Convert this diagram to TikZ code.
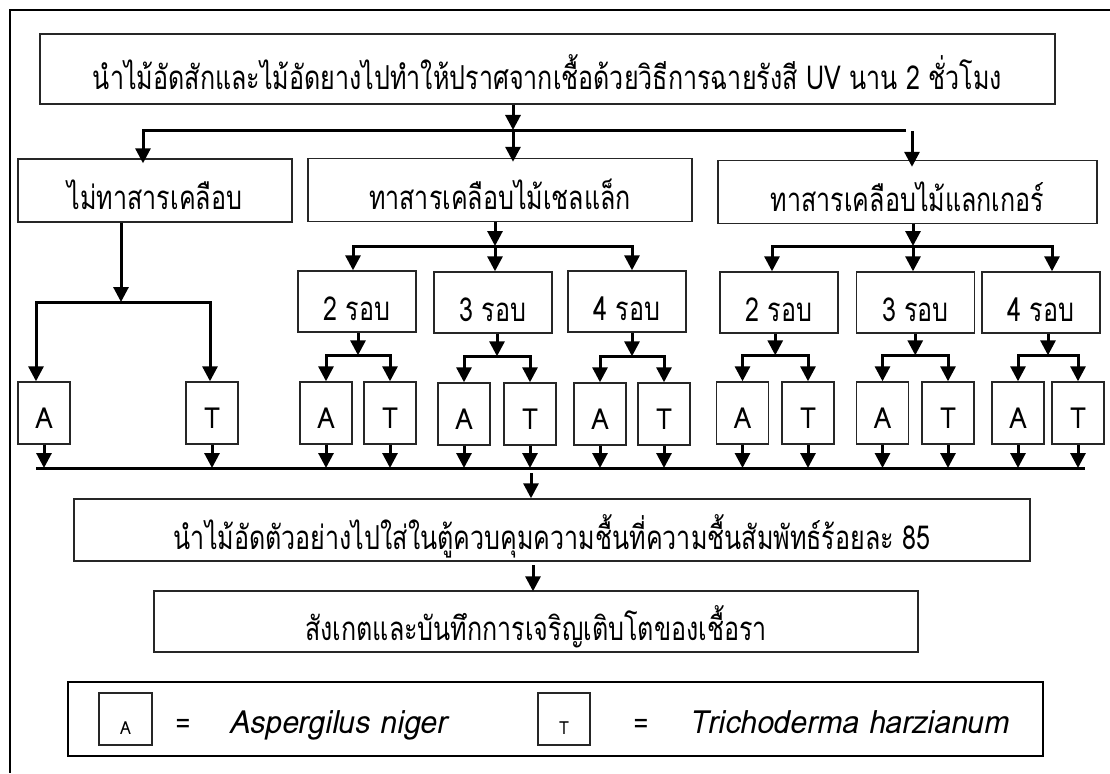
\documentclass[tikz,border=0pt]{standalone}
\usepackage{fontspec}
\setmainfont[Script=Thai]{Loma}
\newfontfamily\thaiN[Script=Thai,FakeStretch=0.76]{Loma}
\newfontfamily\latN[Script=Thai,FakeStretch=0.9]{Loma}
\newfontfamily\latI[Script=Thai,FakeStretch=0.94]{Loma}
\usetikzlibrary{arrows.meta,calc}
\begin{document}
\begin{tikzpicture}[x=1pt,y=-1pt,
  box/.style={draw=black!85,line width=1.4pt,inner sep=0pt,font=\thaiN\fontsize{33}{38}\selectfont,text depth=0pt},
  ln/.style={line width=3pt,black},
  arr/.style={line width=3pt,black,-{Triangle[length=15pt,width=15pt]}},
  frame/.style={line width=2.2pt,black},
  ab/.style={box,minimum width=52pt,minimum height=62pt,text height=30pt,font=\latN\fontsize{29}{32}\selectfont},
  rb/.style={box,minimum width=118pt,minimum height=61pt,text height=37pt},
  gb/.style={box,minimum height=63pt,text height=38pt},
  kb/.style={box,minimum height=52pt,text height=31pt,font=\latN\fontsize{18}{20}\selectfont},
  lg/.style={inner sep=0pt,font=\latI\fontsize{32}{36}\selectfont\itshape,anchor=base west},
  eq/.style={inner sep=0pt,font=\latN\fontsize{28}{32}\selectfont,anchor=base},
]
\useasboundingbox (0,0) rectangle (1110,773);
% frame
\coordinate (fTL) at (10,10);
\coordinate (fTR) at (1110,10);
\coordinate (fBL) at (10,773);
\draw[frame] (fTR) -- (fTL) -- (fBL);
% top box
\node[box,minimum width=1015pt,minimum height=70pt,text height=42pt] (top) at (547.5,69)
  {นำไม้อัดสักและไม้อัดยางไปทำให้ปราศจากเชื้อด้วยวิธีการฉายรังสี UV นาน 2 ชั่วโมง};
% second row
\node[gb,minimum width=274pt] (none) at (155,190.5) {ไม่ทาสารเคลือบ};
\node[gb,minimum width=384pt] (shel) at (500,190) {ทาสารเคลือบไม้เชลแล็ก};
\node[gb,minimum width=379pt] (lacq) at (907.5,192) {ทาสารเคลือบไม้แลกเกอร์};
% rounds
\node[rb] (S2) at (357,301.5) {2 รอบ};
\node[rb] (S3) at (493,302.5) {3 รอบ};
\node[rb] (S4) at (627,301.5) {4 รอบ};
\node[rb] (L2) at (779,302.5) {2 รอบ};
\node[rb] (L3) at (915.5,302.5) {3 รอบ};
\node[rb] (L4) at (1041,302.5) {4 รอบ};
% A / T boxes
\node[ab] (NA) at (44,413) {A};
\node[ab] (NT) at (212,413) {T};
\node[ab] (SA2) at (326,413) {A};
\node[ab] (ST2) at (390,413) {T};
\node[ab] (SA3) at (464,414) {A};
\node[ab] (ST3) at (530,414) {T};
\node[ab] (SA4) at (600,414) {A};
\node[ab] (ST4) at (664,414) {T};
\node[ab] (LA2) at (742.5,413) {A};
\node[ab] (LT2) at (808,413) {T};
\node[ab] (LA3) at (882.5,413) {A};
\node[ab] (LT3) at (948,413) {T};
\node[ab] (LA4) at (1018,413) {A};
\node[ab] (LT4) at (1078,413) {T};
% lower boxes
\node[box,minimum width=956pt,minimum height=62pt,text height=38pt] (M1) at (552,530)
  {นำไม้อัดตัวอย่างไปใส่ในตู้ควบคุมความชื้นที่ความชื้นสัมพัทธ์ร้อยละ 85};
\node[box,minimum width=764pt,minimum height=61pt,text height=38pt] (M2) at (536,621.5)
  {สังเกตและบันทึกการเจริญเติบโตของเชื้อรา};
% legend
\node[draw=black,line width=2.4pt,minimum width=975pt,minimum height=74pt,inner sep=0pt] (leg) at (555.5,719) {};
\node[kb,minimum width=53pt] (kA) at (125.5,719) {A};
\node[kb,minimum width=52pt] (kT) at (564,719) {T};
\node[eq] (eqA) at (183,733) {=};
\node[eq] (eqT) at (641,733) {=};
\node[lg] (nA) at (229,733) {Aspergilus niger};
\node[lg] (nT) at (689,733) {Trichoderma harzianum};
% connectors: top level
\coordinate (j0) at (513,130);
\coordinate (j0L) at (143,130);
\coordinate (j0R) at (906,130);
\coordinate (j0R2) at (912,131);
\draw[arr] (top.south -| j0) -- (j0);
\draw[arr] (j0R) -- (j0L) -- ([yshift=-5pt]j0L |- none.north);
\draw[arr] (j0) -- ([yshift=-4pt]j0 |- shel.north);
\draw[arr] (j0R2) -- ([yshift=-7pt]j0R2 |- lacq.north);
% no coating branch
\coordinate (j1) at (121,302);
\coordinate (j1L) at (36,302);
\coordinate (j1R) at (210,302);
\draw[arr] (none.south -| j1) -- (j1);
\draw[arr] (j1R) -- (j1L) -- (j1L |- NA.north);
\draw[arr] (j1L) -- (j1R) -- (j1R |- NT.north);
% shellac branch
\coordinate (j2) at (495,246);
\coordinate (j2L) at (353,246);
\coordinate (j2R) at (632,246);
\draw[arr] (shel.south -| j2) -- (j2);
\draw[arr] (j2R) -- (j2L) -- (j2L |- S2.north);
\draw[arr] (j2L) -- (j2R) -- (j2R |- S4.north);
\draw[arr] (j2) -- (j2 |- S3.north);
% lacquer branch
\coordinate (j3) at (913,246);
\coordinate (j3L) at (772,246);
\coordinate (j3R) at (1052,246);
\draw[arr] (lacq.south -| j3) -- (j3);
\draw[arr] (j3R) -- (j3L) -- (j3L |- L2.north);
\draw[arr] (j3L) -- (j3R) -- (j3R |- L4.north);
\draw[arr] (j3) -- (j3 |- L3.north);
% rounds to A/T
\foreach \rr/\pp/\qq in {S2/SA2/ST2,S3/SA3/ST3,S4/SA4/ST4,L2/LA2/LT2,L3/LA3/LT3,L4/LA4/LT4}{
  \coordinate (j\rr) at ($(\pp.north)!0.5!(\qq.north)+(0,-26)$);
  \draw[arr] (\rr.south -| j\rr) -- (j\rr);
  \draw[arr] (j\rr) -| (\pp.north);
  \draw[arr] (j\rr) -| (\qq.north);
}
% bus
\coordinate (busL) at (36,468);
\coordinate (busR) at (1085,468);
\draw[ln] (busL) -- (busR);
\foreach \bb in {NA,NT,SA2,ST2,SA3,ST3,SA4,ST4,LA2,LT2,LA3,LT3,LA4,LT4}{
  \draw[arr] (\bb.south) -- (\bb.south |- busL);
}
\coordinate (busM) at (531,473);
\draw[arr] (busM) -- (busM |- M1.north);
\coordinate (m12) at (533,565);
\draw[arr] (m12) -- ([yshift=-1pt]m12 |- M2.north);
\end{tikzpicture}
\end{document}
